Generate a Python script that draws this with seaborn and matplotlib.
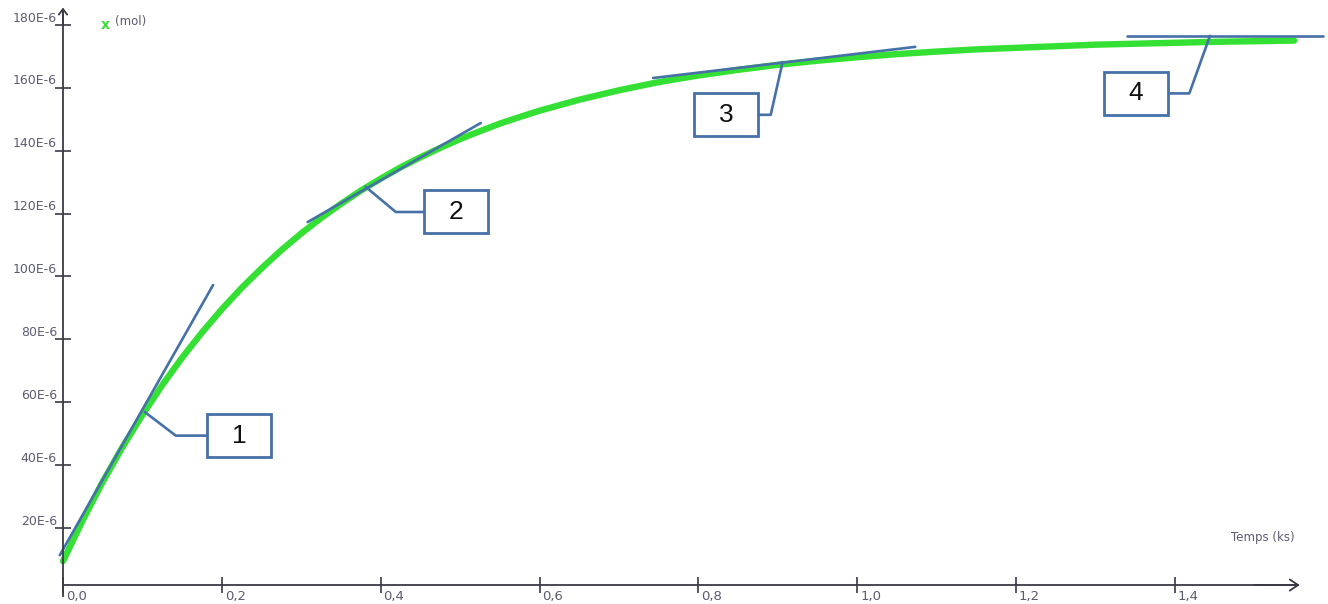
import seaborn as sns
import matplotlib.pyplot as plt
import pandas as pd
from matplotlib.patches import Rectangle
from matplotlib import transforms

# courbe x(t), x en E-6 mol, t en ks
t_ks = [0.0, 0.025, 0.05, 0.075, 0.10, 0.125, 0.15, 0.175, 0.20, 0.225, 0.25,
        0.275, 0.30, 0.325, 0.35, 0.375, 0.40, 0.425, 0.45, 0.475, 0.50,
        0.525, 0.55, 0.575, 0.60, 0.65, 0.70, 0.75, 0.80, 0.85, 0.90, 0.95,
        1.00, 1.05, 1.10, 1.15, 1.20, 1.25, 1.30, 1.35, 1.40, 1.45, 1.50, 1.55]
x_umol = [9.5, 22.6, 34.7, 45.8, 56.0, 65.5, 74.2, 82.2, 89.6, 96.4, 102.6,
          108.4, 113.7, 118.6, 123.1, 127.3, 131.1, 134.7, 137.9, 140.9, 143.7,
          146.2, 148.6, 150.7, 152.7, 156.2, 159.2, 161.8, 163.9, 165.7, 167.3, 168.6,
          169.7, 170.7, 171.5, 172.2, 172.7, 173.2, 173.7, 174.0, 174.3, 174.6, 174.8, 175.0]

# tangentes (extremites)
tangent_t = [[-0.004, 0.189], [0.308, 0.526], [0.743, 1.073], [1.340, 1.586]]
tangent_x = [[11.4, 97.3], [117.3, 148.8], [163.1, 173.0], [176.5, 176.5]]

# reperes 1..4 : point touche, coude, centre de la boite
callout_labels = ['1', '2', '3', '4']
callout_anchor = [(0.103, 56.9), (0.381, 128.5), (0.906, 168.2), (1.444, 176.5)]
callout_elbow_t = [0.142, 0.419, 0.891, 1.418]
callout_box = [(0.2216, 49.4), (0.4948, 120.5), (0.835, 151.4), (1.351, 158.2)]

xticks = [0.0, 0.2, 0.4, 0.6, 0.8, 1.0, 1.2, 1.4]
xticklabels = ['0,0', '0,2', '0,4', '0,6', '0,8', '1,0', '1,2', '1,4']
yticks = [20, 40, 60, 80, 100, 120, 140, 160, 180]
yticklabels = ['20E-6', '40E-6', '60E-6', '80E-6', '100E-6', '120E-6', '140E-6', '160E-6', '180E-6']

sns.set_style('white')
plt.rcParams['font.family'] = ['DejaVu Sans']

green = '#33e033'
blue = '#4670a8'
axcol = '#3a3a46'
txtcol = '#5c5c70'

fig = plt.figure(figsize=(13.28, 6.04), dpi=100)
ax = fig.add_axes([47.1 / 1328, 0, 1 - 47.1 / 1328, 1])

curve = pd.DataFrame({'t': t_ks, 'x': x_umol})
sns.lineplot(data=curve, x='t', y='x', color=green, linewidth=4.6, ax=ax,
             solid_joinstyle='round')
for tt, xx in zip(tangent_t, tangent_x):
    sns.lineplot(x=tt, y=xx, color=blue, linewidth=1.9, ax=ax)

bw, bh = 0.0806, 13.67
for lab, (at, axv), et, (bt, bx) in zip(callout_labels, callout_anchor, callout_elbow_t, callout_box):
    edge = bt - bw / 2 if et < bt else bt + bw / 2
    ax.plot([at, et, edge], [axv, bx, bx], color=blue, lw=1.9)
    ax.add_patch(Rectangle((bt - bw / 2, bx - bh / 2), bw, bh, fc='white', ec=blue, lw=2, zorder=4))
    ax.text(bt, bx, lab, ha='center', va='center', fontsize=19, color='#111111',
            family='Liberation Sans', zorder=5)

ax.set_xlim(-0.02, 1.5926)
ax.set_ylim(-4.13, 187.9)
ax.set_xlabel('')
ax.set_ylabel('')

ax.spines[['top', 'right']].set_visible(False)
ax.spines['left'].set_position(('data', 0))
ax.spines['bottom'].set_position(('data', 1.9))
ax.spines['left'].set_bounds(-1.5, 184)
ax.spines['bottom'].set_bounds(0, 1.555)
for s in ['left', 'bottom']:
    ax.spines[s].set_color(axcol)
    ax.spines[s].set_linewidth(1.3)

ax.annotate('', xy=(1.557, 1.9), xytext=(1.50, 1.9),
            arrowprops=dict(arrowstyle='->,head_length=0.6,head_width=0.4', color=axcol, lw=1.3,
                            shrinkA=0, shrinkB=0))
ax.annotate('', xy=(0, 185.5), xytext=(0, 180),
            arrowprops=dict(arrowstyle='->,head_length=0.4,head_width=0.3', color=axcol, lw=1.3,
                            shrinkA=0, shrinkB=0))

ax.set_xticks(xticks, labels=xticklabels)
ax.set_yticks(yticks, labels=yticklabels)
ax.tick_params(bottom=True, left=True, direction='inout', length=11.5, width=1.2,
               color=axcol, labelcolor=txtcol)
ax.tick_params(axis='x', pad=-2.1, labelsize=9.5)
ax.tick_params(axis='y', pad=-1.4, labelsize=9)

xoff = transforms.ScaledTranslation(2 / 72, 0, fig.dpi_scale_trans)
for lab in ax.get_xticklabels():
    lab.set_ha('left')
    lab.set_transform(lab.get_transform() + xoff)
yoff = transforms.ScaledTranslation(0, 6 / 72, fig.dpi_scale_trans)
for lab in ax.get_yticklabels():
    lab.set_transform(lab.get_transform() + yoff)

ax.text(0.0529, 180.0, 'x', color='#3cdc3c', fontweight='bold', fontsize=10, ha='center', va='center')
ax.text(0.0655, 181.0, '(mol)', color=txtcol, fontsize=8.5, ha='left', va='center')
ax.text(1.511, 16.9, 'Temps (ks)', color=txtcol, fontsize=8.5, ha='center', va='center')

plt.savefig('out.png', dpi=100)
